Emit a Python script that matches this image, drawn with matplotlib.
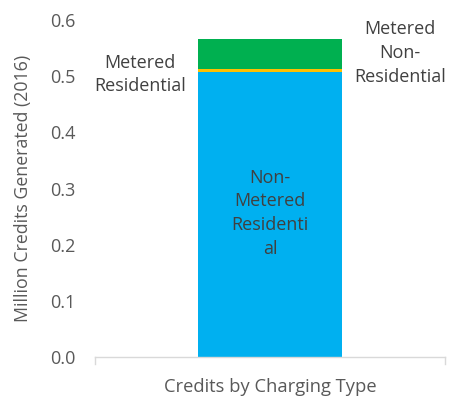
import matplotlib
matplotlib.use("Agg")
import matplotlib.pyplot as plt

plt.rcParams['font.family'] = ['Open Sans', 'DejaVu Sans']

categories = ["Credits by Charging Type"]
series_names = ["Non-Metered Residential", "Metered Residential", "Metered Non-Residential"]
series_values = [[0.507], [0.005], [0.054]]
colors = ["#00B0F0", "#FFC000", "#00B050"]
yticks = [0.0, 0.1, 0.2, 0.3, 0.4, 0.5, 0.6]

fig = plt.figure(figsize=(4.49, 3.98), dpi=100)
ax = fig.add_axes([95/449, 1-357/398, 350/449, (357-20)/398])

bottom = [0.0]
for vals, c in zip(series_values, colors):
    ax.bar([0], vals, bottom=bottom, width=0.41, color=c, edgecolor='none')
    bottom = [b + v for b, v in zip(bottom, vals)]

ax.set_xlim(-0.5, 0.5)
ax.set_ylim(0, 0.6)
ax.set_yticks(yticks)
ax.set_yticklabels([f"{t:.1f}" for t in yticks], color="#595959", fontsize=13)
ax.tick_params(axis='y', length=0, pad=14)
ax.set_xticks([])
for s in ['top', 'right', 'left']:
    ax.spines[s].set_visible(False)
ax.spines['bottom'].set_color('#D9D9D9')
ax.spines['bottom'].set_linewidth(1.0)
for xx in (-0.5, 0.5):
    ax.plot([xx, xx], [0, -0.012], color='#D9D9D9', lw=1.0, clip_on=False)

ax.set_xlabel(categories[0], color="#595959", fontsize=13.2, labelpad=15)
ax.set_ylabel("Million Credits Generated (2016)", color="#595959", fontsize=12.8, labelpad=13)

ax.text(-0.371, 0.503, "Metered\nResidential", ha='center', va='center',
        fontsize=13, color="#404040", linespacing=1.42)
ax.text(0.371, 0.541, "Metered\nNon-\nResidential", ha='center', va='center',
        fontsize=13, color="#404040", linespacing=1.42)
ax.text(0.0, 0.256, "Non-\nMetered\nResidenti\nal", ha='center', va='center',
        fontsize=13, color="#404040", linespacing=1.4)

fig.savefig("out.png", dpi=100)
